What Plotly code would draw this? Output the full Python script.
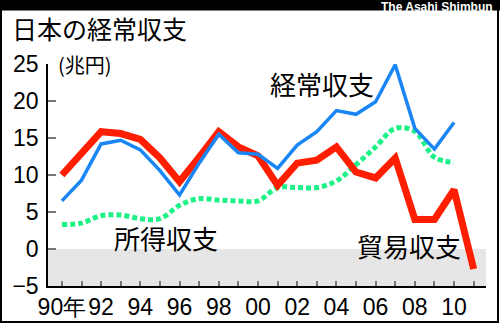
import plotly.graph_objects as go

years = list(range(1990, 2012))
current = [6.5, 9.3, 14.2, 14.7, 13.4, 10.6, 7.3, 11.6, 15.5, 13.0, 12.8, 10.9, 14.05, 15.85, 18.7, 18.2, 19.9, 24.9, 16.3, 13.5, 17.1]
trade = [10.0, 13.0, 15.85, 15.6, 14.8, 12.3, 9.1, 12.4, 15.85, 13.8, 12.6, 8.6, 11.6, 12.0, 13.8, 10.4, 9.6, 12.3, 4.0, 4.0, 8.0, -2.7]
income = [3.3, 3.5, 4.5, 4.6, 4.1, 4.1, 5.9, 6.8, 6.6, 6.5, 6.5, 8.3, 8.3, 8.3, 9.2, 11.4, 13.8, 16.3, 15.9, 12.4, 11.7]
xtick_labels = ["90年", "", "92", "", "94", "", "96", "", "98", "", "00", "", "02", "", "04", "", "06", "", "08", "", "10", ""]
ytick_vals = [-5, 0, 5, 10, 15, 20, 25]

W, H = 500, 323
L, R, T, B = 48, 486, 64, 286  # plot area pixels
def px(x): return (x - L) / (R - L)
def py(y): return (B - y) / (B - T)

CJK = "Noto Sans CJK JP"

fig = go.Figure()
fig.add_trace(go.Scatter(x=years[:len(income)], y=income, mode="lines",
                         line=dict(color="#1cf286", width=5, dash="5px,3px", shape="spline", smoothing=1.0)))
fig.add_trace(go.Scatter(x=years[:len(trade)], y=trade, mode="lines",
                         line=dict(color="#ff1e00", width=7)))
fig.add_trace(go.Scatter(x=years[:len(current)], y=current, mode="lines",
                         line=dict(color="#1a86f5", width=3.5)))

shapes = [
    dict(type="rect", xref="paper", yref="y", x0=0, x1=1, y0=-5, y1=0,
         fillcolor="#e6e6e6", line=dict(width=0), layer="below"),
    dict(type="rect", xref="paper", yref="paper", x0=px(0), x1=px(W), y0=py(10.5), y1=py(0),
         fillcolor="black", line=dict(width=0)),
    dict(type="rect", xref="paper", yref="paper", x0=px(1), x1=px(W - 2), y0=py(H - 1), y1=py(1),
         fillcolor="rgba(0,0,0,0)", line=dict(color="black", width=2)),
]

annotations = [
    dict(text="The Asahi Shimbun", xref="paper", yref="paper", x=px(494), y=py(6.5),
         xanchor="right", yanchor="middle", showarrow=False, borderpad=0,
         font=dict(family="Liberation Sans", size=12, color="white", weight="bold")),
    dict(text="日本の経常収支", xref="paper", yref="paper", x=px(10), y=py(28),
         xanchor="left", yanchor="middle", showarrow=False,
         font=dict(family=CJK, size=25, color="black")),
    dict(text="(兆円)", xref="paper", yref="paper", x=px(56), y=py(64),
         xanchor="left", yanchor="middle", showarrow=False,
         font=dict(family=CJK, size=20, color="black")),
    dict(text="経常収支", xref="x", yref="y", x=2003.27, y=22.4,
         xanchor="center", yanchor="middle", showarrow=False,
         font=dict(family=CJK, size=26, color="black")),
    dict(text="所得収支", xref="x", yref="y", x=1995.33, y=1.55,
         xanchor="center", yanchor="middle", showarrow=False,
         font=dict(family=CJK, size=26, color="black")),
    dict(text="貿易収支", xref="x", yref="y", x=2007.68, y=0.54,
         xanchor="center", yanchor="middle", showarrow=False,
         font=dict(family=CJK, size=26, color="black")),
]

fig.update_layout(
    width=W, height=H,
    margin=dict(l=L, r=W - R, t=T, b=H - B, pad=0),
    paper_bgcolor="white", plot_bgcolor="white",
    showlegend=False,
    shapes=shapes, annotations=annotations,
    xaxis=dict(range=[1989.29, 2011.63], tickmode="array", tickvals=years, ticktext=xtick_labels,
               ticks="inside", ticklen=5, tickwidth=2, tickcolor="#777777", tickangle=0, automargin=False,
               showline=True, linecolor="black", linewidth=1.5, showgrid=False, zeroline=False,
               tickfont=dict(family="Liberation Sans", size=23, color="black")),
    yaxis=dict(range=[-5, 25], tickmode="array", tickvals=ytick_vals, automargin=False,
               ticks="inside", ticklen=8, tickwidth=2, tickcolor="#777777",
               showline=True, linecolor="black", linewidth=1.5, showgrid=False, zeroline=False,
               ticklabelstandoff=3,
               tickfont=dict(family="Liberation Sans", size=23, color="black")),
)

fig.write_html("out.html")
